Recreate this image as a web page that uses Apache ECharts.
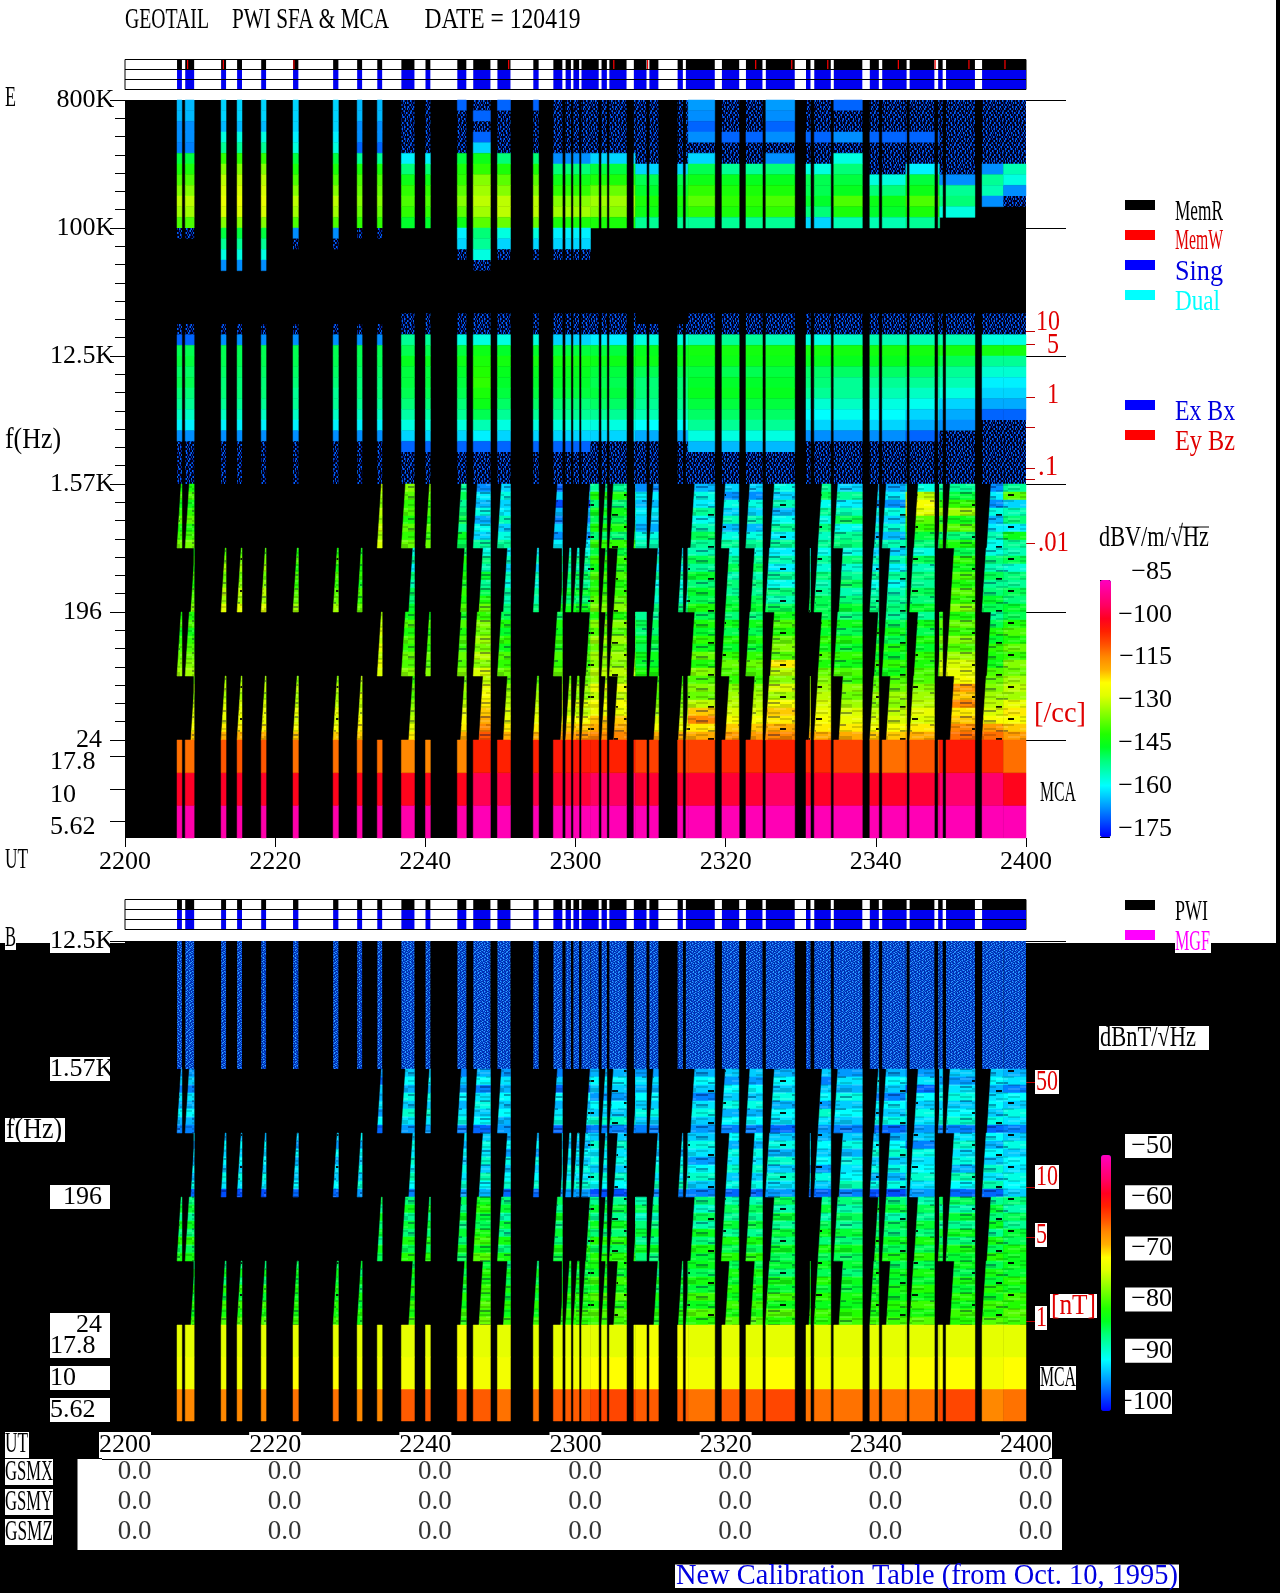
<!DOCTYPE html>
<html><head><meta charset="utf-8">
<style>html,body{margin:0;padding:0;background:#fff}#c{width:1280px;height:1593px}</style>
<script src="https://cdn.jsdelivr.net/npm/echarts@6/dist/echarts.min.js"></script>
</head><body><div id="c"></div>
<script>
const _=null, D=-181, K=-101;
// tick labels
const timeLabels=['2200','2220','2240','2300','2320','2340','2400'];
const nb='\u00a0';
const freqLabelsE=[nb+nb+nb+nb+'24',nb+nb+'196','1.57K','12.5K',nb+'100K',nb+'800K'];
const freqLabelsB=[nb+nb+nb+nb+'24',nb+nb+'196','1.57K','12.5K'];
const mcaLabels=['5.62','10','17.8'];
const eBarTicks=[-175,-160,-145,-130,-115,-100,-85];
const bBarTicks=[-100,-90,-80,-70,-60,-50];
const eDensityPos=[3.19,3.09,2.68,2.445,2.125,2.04,1.54];
const bFieldPos=[1.898,1.078,0.6875,0.031];
const gsmNames=['GSMX','GSMY','GSMZ'];
const gsmX=[0.0,0.0,0.0,0.0,0.0,0.0,0.0];
const gsmY=[0.0,0.0,0.0,0.0,0.0,0.0,0.0];
const gsmZ=[0.0,0.0,0.0,0.0,0.0,0.0,0.0];
// observation segments, minutes after 2200
const headerSegs=[[6.93,7.58],[8.02,9.21],[12.8,13.46],[14.93,15.58],[18.14,18.79],[22.38,23.09],[27.72,28.42],[30.92,31.58],[33.6,34.25],[36.81,38.55],[40.02,40.67],[44.26,45.46],[46.38,48.67],[49.6,51.34],[54.38,55.09],[57.05,58.25],[58.68,59.39],[59.72,60.48],[60.8,63.09],[63.47,64.18],[64.51,66.8],[67.77,69.46],[69.84,71.04],[73.6,74.3],[74.7,78.55],[79.5,81.8],[82.7,84.9],[85.35,89.2],[90.7,91.3],[91.8,94.0],[94.4,98.2],[99.2,100.4],[100.85,104.1],[104.5,107.8],[108.3,108.9],[109.35,113.2],[114.15,120]];
const memWTimes=[8.34,13.1,22.5,51.1,65.1,69.6,84.0,88.8,93.6,103.0,107.9,112.4,117.2];
const oddBandSegs=[[6.93,7.58],[8.02,9.21],[33.6,34.25],[36.81,38.55],[40.02,40.67],[44.26,45.46],[46.38,48.67],[49.6,51.34],[57.05,58.25],[61.4,63.09],[63.47,64.18],[64.51,66.8],[67.77,69.46],[69.84,71.04],[75.34,78.55],[79.42,81.76],[82.68,84.9],[85.95,89.2],[92.3,94.0],[94.4,98.2],[99.8,100.4],[100.85,104.1],[105.1,107.8],[108.3,108.9],[109.35,113.2],[114.8,120]];
const evenBandSegs=[[8.78,9.21],[12.8,13.46],[14.93,15.58],[18.14,18.79],[22.38,23.09],[27.72,28.42],[30.92,31.58],[37.8,38.55],[44.7,45.46],[47.15,48.67],[50.4,51.34],[54.38,55.09],[58.03,58.25],[58.68,59.39],[59.72,60.48],[60.8,63.09],[63.47,64.18],[65.1,66.8],[70.44,71.09],[73.7,74.3],[74.7,78.55],[79.97,81.76],[83.34,84.9],[85.3,89.2],[91.1,91.28],[91.77,94.0],[95.1,98.2],[99.2,100.4],[101.4,104.1],[104.5,107.8],[109.9,113.2],[114.15,120]];
const timeZones=[6,12,20,30,36,42,46,49.5,56,62,68,75,79,85,90,94,99,104,108.5,114,117,120];
// E field, 800K to 1.57K, dB, one row per 1/12 decade, one column per time zone. D = faint speckle below the scale
const eUpper=[
[-162,-160,-160,-162,D,-168,D,-168,D,D,D,-164,D,-164,D,-168,D,D,D,D,D],
[-162,-160,-160,-162,D,D,-168,D,D,D,D,-165,D,-165,D,D,D,D,D,D,D],
[-165,-162,-160,-165,D,D,D,D,D,D,D,-168,D,-168,D,D,D,D,D,D,D],
[-165,-155,-158,-165,D,D,-168,D,D,D,D,-165,-168,-165,-168,-165,-168,-168,D,D,D],
[-166,-150,-155,-168,D,D,-160,D,D,D,D,D,D,D,D,D,D,D,D,D,D],
[-145,-138,-145,-150,-158,-145,-142,-148,-165,-160,D,-160,D,-165,D,-155,D,D,D,D,D],
[-140,-132,-140,-140,-148,-140,-138,-140,-148,-145,-160,-146,-150,-148,-155,-148,D,-158,D,-165,-152],
[-136,-128,-136,-136,-142,-138,-132,-135,-142,-140,-146,-142,-143,-143,-146,-145,-155,-145,-165,-150,-155],
[-132,-126,-132,-134,-138,-135,-130,-132,-138,-134,-144,-138,-140,-140,-146,-143,-148,-142,-150,-152,-165],
[-128,-124,-128,-132,-136,-132,-128,-128,-132,-130,-140,-135,-138,-136,-144,-136,-142,-136,-148,-165,D],
[-130,-126,-130,-134,-138,-135,-130,-128,-130,-132,-142,-138,-140,-138,-148,-140,-144,-140,-155,_,_],
[-136,-132,-136,-138,-144,-142,-135,-134,-140,-140,-150,-150,-150,-150,-160,-152,-152,-150,_,_,_],
[D,-145,-165,D,_,-158,-148,-155,-158,_,_,_,_,_,_,_,_,_,_,_,_],
[_,-150,D,_,_,-160,-150,-160,-160,_,_,_,_,_,_,_,_,_,_,_,_],
[_,-155,_,_,_,D,-155,D,D,_,_,_,_,_,_,_,_,_,_,_,_],
[_,-165,_,_,_,_,D,_,_,_,_,_,_,_,_,_,_,_,_,_,_],
[_,_,_,_,_,_,_,_,_,_,_,_,_,_,_,_,_,_,_,_,_],
[_,_,_,_,_,_,_,_,_,_,_,_,_,_,_,_,_,_,_,_,_],
[_,_,_,_,_,_,_,_,_,_,_,_,_,_,_,_,_,_,_,_,_],
[_,_,_,_,_,_,_,_,_,_,_,_,_,_,_,_,_,_,_,_,_],
[_,_,_,_,D,D,D,D,D,D,_,D,D,D,D,D,D,D,D,D,D],
[D,D,D,D,D,D,D,D,D,D,D,D,D,D,D,D,D,D,D,D,D],
[-168,-165,-165,-165,-150,-155,-155,-155,-160,-158,-155,-152,-150,-152,-155,-153,-152,-152,-152,-155,-155],
[-146,-146,-146,-146,-146,-145,-142,-144,-145,-145,-143,-141,-141,-141,-141,-141,-141,-141,-141,-141,-141],
[-145,-146,-146,-146,-143,-142,-140,-141,-141,-142,-142,-142,-142,-142,-143,-143,-143,-143,-146,-150,-150],
[-147,-147,-147,-147,-145,-144,-139,-143,-143,-145,-146,-145,-146,-145,-147,-147,-147,-147,-150,-154,-154],
[-146,-148,-148,-148,-145,-145,-138,-144,-144,-146,-148,-144,-144,-144,-148,-150,-150,-150,-152,-158,-158],
[-148,-148,-150,-148,-146,-146,-140,-145,-145,-145,-148,-143,-143,-143,-150,-150,-152,-153,-155,-160,-160],
[-150,-150,-150,-150,-148,-148,-142,-147,-148,-147,-150,-145,-145,-145,-154,-153,-155,-156,-160,-163,-163],
[-153,-153,-153,-153,-151,-150,-146,-150,-150,-150,-152,-147,-147,-147,-157,-156,-157,-160,-163,-168,-168],
[-158,-158,-158,-158,-155,-155,-152,-155,-155,-155,-157,-150,-150,-150,-160,-160,-160,-163,-165,D,D],
[-165,-165,-165,-165,-160,-160,-158,-160,-160,-160,-163,-155,-155,-155,-165,-165,-165,-168,D,D,D],
[D,D,D,D,-168,-168,-168,-168,-168,D,D,-162,-162,-162,D,D,D,D,D,D,D],
[D,D,D,D,D,D,D,D,D,D,D,D,D,D,D,D,D,D,D,D,D],
[D,D,D,D,D,D,D,D,D,D,D,D,D,D,D,D,D,D,D,D,D],
[D,D,D,D,D,D,D,D,D,D,D,D,D,D,D,D,D,D,D,D,D]
];
// E field, 1.57K to 24, one row per 1/16 decade
const eLower=[
[-140,-135,-135,-128,-132,-150,-165,-160,-168,-150,-165,-162,-160,-155,-150,-160,-163,-155,-150,-165,-150],
[-136,-135,-135,-130,-135,-146,-158,-155,-160,-140,-158,-155,-165,-160,-146,-150,-158,-128,-145,-158,-135],
[-142,-135,-135,-132,-138,-150,-162,-160,-170,-148,-162,-158,-155,-152,-156,-158,-165,-122,-138,-165,-160],
[-138,-135,-135,-128,-136,-148,-155,-158,-162,-142,-158,-150,-160,-162,-150,-152,-155,-125,-130,-155,-152],
[-135,-135,-135,-130,-140,-145,-163,-152,-166,-146,-160,-156,-152,-156,-155,-146,-160,-135,-142,-162,-148],
[-140,-135,-135,-127,-135,-150,-156,-160,-160,-140,-163,-152,-162,-150,-148,-156,-154,-138,-135,-158,-158],
[-137,-135,-135,-130,-138,-143,-160,-155,-165,-148,-155,-146,-155,-158,-153,-150,-162,-145,-148,-152,-142],
[-133,-135,-135,-126,-134,-146,-150,-150,-158,-138,-152,-150,-150,-150,-150,-148,-152,-148,-140,-156,-150],
[-142,-136,-140,-142,-155,-146,-155,-158,-155,-145,-160,-152,-155,-158,-156,-155,-160,-155,-146,-155,-152],
[-138,-133,-136,-138,-150,-140,-148,-152,-148,-138,-152,-146,-150,-152,-150,-148,-152,-146,-138,-148,-146],
[-140,-130,-140,-140,-158,-143,-152,-160,-152,-142,-158,-150,-146,-158,-154,-154,-158,-152,-142,-152,-154],
[-136,-134,-136,-138,-148,-140,-144,-152,-146,-136,-150,-144,-152,-150,-148,-150,-150,-148,-136,-146,-148],
[-140,-132,-138,-142,-152,-142,-150,-155,-150,-140,-156,-148,-148,-156,-152,-146,-156,-150,-140,-150,-150],
[-136,-128,-135,-136,-146,-138,-146,-150,-144,-138,-152,-144,-150,-148,-150,-152,-152,-146,-135,-148,-146],
[-135,-130,-134,-138,-148,-140,-140,-152,-148,-135,-154,-146,-146,-152,-146,-148,-150,-148,-138,-144,-148],
[-132,-125,-130,-134,-144,-136,-134,-148,-142,-132,-148,-140,-144,-146,-146,-144,-148,-144,-132,-146,-144],
[-140,-135,-135,-130,-142,-142,-138,-146,-146,-140,-150,-146,-148,-142,-146,-148,-150,-150,-140,-150,-146],
[-136,-135,-135,-128,-136,-136,-132,-140,-140,-132,-146,-140,-142,-136,-140,-142,-146,-142,-134,-146,-140],
[-142,-135,-135,-126,-140,-140,-134,-144,-142,-136,-148,-144,-146,-140,-144,-146,-142,-146,-138,-140,-136],
[-138,-135,-135,-128,-136,-136,-130,-138,-138,-130,-144,-138,-140,-134,-138,-140,-146,-140,-132,-144,-140],
[-136,-135,-135,-125,-138,-138,-133,-142,-140,-134,-146,-142,-144,-132,-142,-144,-140,-144,-136,-138,-134],
[-134,-135,-135,-128,-134,-134,-128,-136,-136,-130,-142,-134,-138,-136,-136,-138,-144,-138,-130,-140,-138],
[-132,-135,-135,-124,-136,-136,-132,-138,-138,-132,-144,-140,-134,-120,-140,-142,-138,-140,-126,-142,-132],
[-130,-135,-135,-126,-132,-132,-126,-134,-134,-128,-140,-132,-136,-128,-134,-136,-142,-136,-124,-136,-134],
[-134,-130,-132,-128,-138,-134,-128,-136,-134,-130,-138,-136,-138,-132,-132,-138,-136,-136,-122,-134,-130],
[-130,-128,-128,-130,-134,-130,-124,-132,-130,-124,-134,-132,-132,-126,-130,-132,-134,-132,-114,-132,-128],
[-132,-130,-130,-126,-136,-132,-122,-130,-132,-128,-136,-134,-130,-130,-128,-134,-130,-130,-118,-130,-130],
[-128,-126,-128,-128,-132,-128,-120,-128,-126,-122,-132,-128,-128,-122,-126,-130,-132,-128,-112,-128,-124],
[-126,-124,-124,-126,-130,-124,-118,-126,-128,-124,-130,-118,-126,-118,-124,-126,-128,-124,-120,-126,-120],
[-124,-124,-126,-122,-128,-122,-116,-124,-122,-118,-126,-112,-122,-120,-122,-124,-126,-126,-118,-122,-122],
[-122,-120,-122,-120,-125,-120,-112,-120,-118,-116,-122,-120,-118,-116,-120,-120,-122,-120,-112,-114,-118],
[-118,-116,-118,-118,-120,-116,-108,-116,-114,-112,-116,-116,-114,-112,-116,-116,-118,-116,-110,-110,-114]
];
// E field MCA channels, top to bottom: 17.8, 10, 5.62
const eMca178=[-110,-108,-110,-110,-112,-112,-103,-103,-102,-103,-106,-106,-104,-103,-104,-106,-110,-108,-102,-104,-110];
const eMca10=[-98,-98,-99,-99,-99,-99,-95,-96,-97,-94,-97,-97,-97,-94,-98,-97,-98,-97,-93,-93,-99];
const eMca562=[-87,-87,-87,-87,-87,-87,-86,-86,-86,-86,-86,-86,-86,-86,-86,-86,-86,-86,-86,-86,-86];
// B field, 12.5K to 1.57K: speckle throughout
const bUpper=[
[K,K,K,K,K,K,K,K,K,K,K,K,K,K,K,K,K,K,K,K,K],
[K,K,K,K,K,K,K,K,K,K,K,K,K,K,K,K,K,K,K,K,K],
[K,K,K,K,K,K,K,K,K,K,K,K,K,K,K,K,K,K,K,K,K],
[K,K,K,K,K,K,K,K,K,K,K,K,K,K,K,K,K,K,K,K,K]
];
// B field, 1.57K to 24
const bLower=[
[-94,-94,-94,-94,-92,-95,-93,-94,-95,-93,-94,-93,-92,-93,-92,-94,-93,-94,-92,-92,-93],
[-92,-92,-92,-96,-90,-92,-90,-91,-92,-90,-91,-90,-94,-90,-95,-91,-90,-91,-94,-90,-91],
[-95,-95,-95,-92,-93,-94,-95,-93,-96,-92,-93,-92,-90,-92,-92,-93,-92,-96,-91,-93,-95],
[-91,-91,-91,-93,-89,-90,-91,-90,-90,-94,-90,-95,-92,-89,-90,-89,-95,-90,-89,-91,-90],
[-93,-93,-93,-91,-92,-93,-89,-92,-93,-90,-92,-91,-89,-93,-94,-92,-90,-92,-92,-90,-92],
[-90,-90,-90,-94,-88,-91,-92,-90,-91,-92,-89,-89,-93,-90,-88,-90,-92,-89,-90,-92,-89],
[-93,-93,-93,-90,-91,-89,-90,-93,-89,-88,-92,-92,-90,-91,-91,-92,-89,-91,-88,-89,-91],
[-95,-95,-95,-96,-94,-95,-96,-94,-96,-95,-95,-94,-95,-96,-94,-95,-96,-94,-95,-96,-95],
[-91,-93,-92,-90,-92,-91,-92,-93,-91,-92,-93,-92,-90,-92,-93,-92,-93,-92,-91,-90,-92],
[-94,-90,-94,-93,-89,-93,-89,-90,-93,-88,-90,-89,-93,-89,-90,-89,-90,-95,-88,-93,-89],
[-91,-92,-90,-90,-91,-90,-91,-94,-90,-91,-93,-91,-89,-93,-92,-93,-88,-89,-91,-90,-92],
[-93,-90,-93,-92,-88,-92,-88,-89,-92,-89,-90,-94,-91,-88,-90,-89,-92,-91,-89,-92,-90],
[-90,-92,-91,-89,-90,-89,-92,-92,-89,-92,-88,-90,-88,-92,-94,-91,-89,-90,-93,-88,-91],
[-93,-89,-92,-92,-87,-91,-87,-90,-91,-88,-91,-88,-92,-88,-89,-90,-93,-88,-87,-91,-89],
[-89,-91,-90,-88,-90,-88,-90,-88,-88,-90,-87,-92,-89,-91,-92,-87,-89,-91,-90,-87,-90],
[-96,-97,-96,-94,-95,-94,-93,-96,-94,-97,-95,-95,-96,-94,-96,-95,-97,-94,-96,-96,-92],
[-85,-90,-90,-84,-85,-84,-82,-85,-84,-86,-87,-85,-87,-84,-86,-85,-85,-87,-84,-86,-85],
[-83,-90,-90,-86,-82,-86,-80,-83,-86,-83,-84,-88,-84,-87,-83,-87,-83,-84,-87,-83,-87],
[-86,-90,-90,-82,-86,-82,-83,-87,-82,-86,-88,-84,-86,-83,-87,-84,-87,-86,-83,-85,-84],
[-82,-90,-90,-85,-83,-85,-84,-83,-85,-82,-85,-87,-83,-86,-84,-86,-84,-83,-86,-82,-86],
[-85,-90,-90,-83,-85,-83,-81,-86,-83,-85,-83,-82,-86,-83,-82,-83,-85,-85,-82,-86,-83],
[-80,-90,-90,-86,-81,-85,-79,-81,-85,-80,-86,-85,-81,-85,-85,-85,-82,-81,-85,-81,-84],
[-84,-90,-90,-82,-84,-81,-82,-85,-81,-84,-82,-81,-84,-82,-81,-82,-84,-84,-81,-84,-81],
[-81,-90,-90,-84,-80,-84,-78,-81,-83,-80,-85,-83,-80,-84,-84,-84,-81,-80,-83,-80,-82],
[-85,-85,-84,-83,-84,-82,-83,-85,-82,-81,-84,-82,-84,-83,-82,-83,-84,-84,-82,-84,-82],
[-82,-82,-82,-85,-81,-84,-80,-82,-84,-83,-86,-84,-81,-85,-84,-85,-82,-81,-84,-81,-83],
[-84,-85,-83,-82,-83,-81,-81,-84,-81,-79,-82,-81,-83,-81,-80,-82,-83,-83,-81,-83,-80],
[-81,-80,-81,-84,-80,-83,-79,-81,-83,-82,-84,-83,-80,-83,-83,-83,-81,-80,-83,-80,-82],
[-83,-83,-82,-81,-82,-80,-80,-83,-80,-78,-81,-79,-82,-79,-80,-81,-82,-82,-80,-82,-79],
[-80,-79,-80,-83,-79,-82,-78,-80,-82,-81,-83,-82,-79,-82,-82,-82,-80,-79,-82,-79,-80],
[-82,-81,-81,-80,-81,-79,-79,-82,-79,-78,-80,-78,-81,-78,-79,-80,-81,-81,-79,-81,-78],
[-79,-78,-79,-81,-78,-80,-77,-79,-80,-79,-81,-80,-78,-80,-80,-79,-79,-78,-80,-78,-79]
];
const bMca178=[-72,-72,-72,-72,-72,-71,-72,-72,-72,-72,-71,-72,-72,-72,-72,-72,-72,-72,-72,-72,-72];
const bMca10=[-71,-71,-70,-71,-71,-70,-71,-71,-71,-70,-70,-71,-71,-70,-71,-71,-71,-70,-70,-71,-70];
const bMca562=[-65,-65,-64,-65,-63,-63,-63,-64,-63,-62,-63,-64,-63,-62,-64,-64,-64,-64,-62,-65,-64];
// colour scale stops, low to high
const colourStops=['#0000ff','#0040ff','#0080ff','#00c0ff','#00ffff','#00ffbb','#00ff77','#00ff22','#20ff00','#60ff00','#a0ff00','#e0ff00','#ffff00','#ffb000','#ff8800','#ff5000','#ff2000','#ff0020','#ff0060','#ff0090','#ff00c0'];
// fill tiles (style only): speckle for faint regions, fine banding for the sweep bands
const speckleTile=['0120100210010201','2010012001200100','0102100100210012','1001020210010120','0210100001201001','1000210120010210','0120010201002100','2001200010120001','0100102100210120','1020010012001002','0012100201000210','2100020100120100','0100120010210021','0021001200100120','1200100210020100','0010210001201002'];
const bandTile=['..aa....bb..aa..','aaaa..k...aaaa..','.bb...aa....bb..','....cc..bb....aa','aa......aa..cc..','..bb..aa....bb..','cc....bb..aa....','..aa....k.....bb','bb..cc....aa....','....aa..bb....aa','.aa....aa..cc...','bb....bb......aa','..k.aa....bb....','aa....cc....aa..','..bb....aa....bb','cc..aa....bb....'];
function tile(rows,w,h,colours){
  const cv=document.createElement('canvas');cv.width=rows[0].length*w;cv.height=rows.length*h;
  const g=cv.getContext('2d');
  rows.forEach((r,y)=>{for(let x=0;x<r.length;x++){const c=colours[r[x]];if(c){g.fillStyle=c;g.fillRect(x*w,y*h,w,h);}}});
  return cv;
}
const eSpeckle={image:tile(speckleTile,1,2,{'0':'#000018','1':'#0028a8','2':'#0068f0'}),repeat:'repeat'};
const bSpeckle={image:tile(speckleTile,1,1,{'0':'#0030b0','1':'#1060e8','2':'#30a0ff'}),repeat:'repeat'};
const bandFill={image:tile(bandTile,6,2,{'.':null,'a':'rgba(0,0,0,.16)','b':'rgba(255,255,255,.14)','c':'rgba(0,0,60,.38)','k':'rgba(0,0,0,.9)'}),repeat:'repeat'};

const FONT='"Liberation Serif"';
const ctx=document.createElement('canvas').getContext('2d');
function T(text,x,y,w,color,size){
  size=size||29; ctx.font=size+'px '+FONT;
  const m=ctx.measureText(text).width;
  return {type:'text',x:x,y:y,scaleX:w/m,z:50,silent:true,style:{text:text,fill:color||'#000',font:size+'px '+FONT,verticalAlign:'middle',align:'left'}};
}
function R(x,y,w,h,fill,z){return {type:'rect',z:z===undefined?40:z,silent:true,shape:{x:x,y:y,width:w,height:h},style:{fill:fill}};}

function pieces(segs,row,yB,yT,sB,sT,banded,out){
  segs.forEach(s=>{
    for(let z=0;z<row.length;z++){
      if(row[z]===null) continue;
      const a=Math.max(s[0],timeZones[z]), b=Math.min(s[1],timeZones[z+1]);
      if(b<=a) continue;
      const first=a===s[0];
      out.push([a,b,yB,yT,row[z],first?sB:0,first?sT:0,banded]);
    }
  });
}
function buildSfa(upper,lower,topDecade,slant){
  const out=[];
  const up=(topDecade-2)/upper.length;
  upper.forEach((row,i)=>pieces(headerSegs,row,topDecade-(i+1)*up,topDecade-i*up,0,0,0,out));
  const step=2/lower.length;
  lower.forEach((row,i)=>{
    const yT=2-i*step,yB=2-(i+1)*step;
    const band=Math.floor(i/8);
    const bandBottom=2-(band+1)*0.5;
    const segs=band%2===0?oddBandSegs:evenBandSegs;
    pieces(segs,row,yB,yT,slant*(yB-bandBottom)/0.5,slant*(yT-bandBottom)/0.5,1,out);
  });
  return out;
}
function buildMca(r178,r10,r562){
  const out=[];
  [r562,r10,r178].forEach((row,i)=>pieces(headerSegs,row,i,i+1,0,0,0,out));
  return out;
}
function buildHeader(withRed){
  const out=[];
  headerSegs.forEach(s=>{out.push([s[0],s[1],0,2,0]);out.push([s[0],s[1],2,3,1]);});
  if(withRed) memWTimes.forEach(t=>out.push([t-0.08,t+0.08,2,3,2]));
  return out;
}
function cellItem(params,api){
  const t0=api.value(0),t1=api.value(1),yB=api.value(2),yT=api.value(3),v=api.value(4),sB=api.value(5),sT=api.value(6),banded=api.value(7);
  const pts=[api.coord([Math.min(t0+sB,t1),yB]),api.coord([t1,yB]),api.coord([t1,yT]),api.coord([Math.min(t0+sT,t1),yT])];
  if(v===D||v===K){
    return {type:'polygon',silent:true,shape:{points:pts},style:{fill:v===D?eSpeckle:bSpeckle}};
  }
  const c=api.visual('color');
  const base={type:'polygon',silent:true,shape:{points:pts},style:{fill:c,stroke:c,lineWidth:0.5}};
  if(!banded) return base;
  return {type:'group',silent:true,children:[base,{type:'polygon',silent:true,shape:{points:pts},style:{fill:bandFill}}]};
}
const headerColours=['#0000f0','#000','#ff0000'];
function headerItem(params,api){
  const a=api.coord([api.value(0),api.value(3)]),b=api.coord([api.value(1),api.value(2)]);
  return {type:'rect',silent:true,shape:{x:a[0],y:a[1],width:b[0]-a[0],height:b[1]-a[1]},style:{fill:headerColours[api.value(4)]}};
}
function cellSeries(x,y,data){
  return {type:'custom',xAxisIndex:x,yAxisIndex:y,data:data,renderItem:cellItem,encode:{x:[0,1],y:[2,3]},animation:false,silent:true,clip:false,progressive:0};
}
function headerSeries(x,y,data){
  return {type:'custom',xAxisIndex:x,yAxisIndex:y,data:data,renderItem:headerItem,encode:{x:[0,1],y:[2,3]},animation:false,silent:true};
}
function gsmSeries(i,vals){
  return {type:'scatter',xAxisIndex:6,yAxisIndex:15,symbolSize:0,silent:true,animation:false,
    data:vals.map((v,k)=>[k*20,i,v]),
    label:{show:true,position:'inside',offset:[9.5,0],formatter:p=>p.value[2].toFixed(1),fontFamily:FONT,fontSize:27,color:'#000'}};
}
const hiddenX=g=>({type:'value',gridIndex:g,min:0,max:120,show:false});
const L=126,W=900;
const grids=[
 {left:L-1,top:59.5,width:W+1,height:30,show:true,backgroundColor:'#fff',borderColor:'#000',borderWidth:1},
 {left:L-1,top:100,width:W+1,height:640,show:true,backgroundColor:'#000',borderWidth:0},
 {left:L-1,top:740,width:W+1,height:98,show:true,backgroundColor:'#000',borderWidth:0},
 {left:L-1,top:899.5,width:W+1,height:30,show:true,backgroundColor:'#fff',borderColor:'#000',borderWidth:1},
 {left:L-1,top:941,width:W+1,height:384,show:true,backgroundColor:'#000',borderWidth:0},
 {left:L-1,top:1325,width:W+1,height:96,show:false},
 {left:L-1,top:1457,width:W+1,height:90,show:false},
 {left:L-1,top:746,width:W+1,height:98,show:false},
 {left:L-1,top:1330,width:W+1,height:96,show:false},
 {left:1100,top:580,width:11,height:257,show:false},
 {left:1100,top:572,width:11,height:257,show:false},
 {left:1100,top:1146,width:11,height:256,show:false}
];
const timeAxis=(g,margin,tick,box)=>({type:'value',gridIndex:g,min:0,max:120,interval:20,position:'bottom',
  splitLine:{show:false},axisLine:{show:false},
  axisTick:{show:tick,length:9,lineStyle:{color:'#000'}},
  axisLabel:Object.assign({margin:margin,color:'#000',fontFamily:FONT,fontSize:26,formatter:v=>timeLabels[v/20]},box?{backgroundColor:'#fff'}:{})});
const xAxes=[hiddenX(0),hiddenX(1),timeAxis(2,11,true,false),hiddenX(3),hiddenX(4),timeAxis(5,11,false,true),hiddenX(6),hiddenX(7),hiddenX(8),hiddenX(9),hiddenX(10),hiddenX(11)];
const noLine={show:false};
const headerY=g=>({type:'value',gridIndex:g,min:0,max:3,interval:1,z:5,axisLine:noLine,axisTick:noLine,axisLabel:noLine,splitLine:{show:true,lineStyle:{color:'#000',width:1}}});
const freqY=(g,max,labels,box)=>({type:'value',gridIndex:g,min:0,max:max,interval:1,splitLine:noLine,axisLine:noLine,
  axisTick:{show:true,length:15,lineStyle:{color:'#000'}},
  minorTick:{show:true,splitNumber:7,length:10,lineStyle:{color:'#000'}},
  axisLabel:Object.assign({margin:75,align:'left',color:'#000',fontFamily:FONT,fontSize:26,formatter:v=>labels[v]},box?{backgroundColor:'#fff',width:60,height:24,lineHeight:24}:{})});
const longTicks=(g,max)=>({type:'value',gridIndex:g,min:0,max:max,interval:1,position:'right',splitLine:noLine,axisLine:noLine,axisLabel:noLine,
  axisTick:{show:true,length:40,lineStyle:{color:'#000'}}});
const redTicks=(g,max,vals)=>({type:'value',gridIndex:g,min:0,max:max,position:'right',splitLine:noLine,axisLine:noLine,axisLabel:noLine,
  axisTick:{show:true,length:9,customValues:vals,lineStyle:{color:'#c00000'}}});
const mcaTicks=g=>({type:'value',gridIndex:g,min:0,max:3,splitLine:noLine,axisLine:noLine,axisLabel:noLine,
  axisTick:{show:true,length:15,customValues:[0.5,1.5,2.5],lineStyle:{color:'#000'}}});
const mcaNames=(g,box)=>({type:'category',gridIndex:g,data:mcaLabels,splitLine:noLine,axisLine:noLine,axisTick:noLine,
  axisLabel:Object.assign({interval:0,margin:75,align:'left',color:'#000',fontFamily:FONT,fontSize:26},box?{backgroundColor:'#fff',width:60,height:24,lineHeight:24}:{})});
const barLabels=(g,min,max,ticks,box)=>({type:'value',gridIndex:g,min:min,max:max,position:'right',splitLine:noLine,axisLine:noLine,axisTick:noLine,
  axisLabel:Object.assign({margin:61,align:'right',customValues:ticks,color:'#000',fontFamily:FONT,fontSize:26,formatter:v=>'\u2212'+Math.abs(v)},box?{backgroundColor:'#fff',width:47,height:24,lineHeight:24}:{})});
const yAxes=[
 headerY(0),                    //0
 freqY(1,5,freqLabelsE,false),  //1
 longTicks(1,5),                //2
 redTicks(1,5,eDensityPos),     //3
 mcaTicks(2),                   //4
 headerY(3),                    //5
 freqY(4,3,freqLabelsB,true),   //6
 longTicks(4,3),                //7
 redTicks(4,3,bFieldPos),       //8
 mcaTicks(5),                   //9
 mcaNames(7,false),             //10
 mcaNames(8,true),              //11
 {type:'value',gridIndex:9,min:-175,max:-85,position:'right',splitLine:noLine,axisLine:noLine,axisLabel:noLine,
  axisTick:{show:true,length:10,customValues:eBarTicks,lineStyle:{color:'#000'}}}, //12
 barLabels(10,-175,-85,eBarTicks,false), //13
 barLabels(11,-100,-50,bBarTicks,true),  //14
 {type:'category',gridIndex:6,data:gsmNames,inverse:true,splitLine:noLine,axisLine:noLine,axisTick:noLine,axisLabel:noLine} //15
];
const series=[
 headerSeries(0,0,buildHeader(true)),
 cellSeries(1,1,buildSfa(eUpper,eLower,5,0.55)),
 cellSeries(2,4,buildMca(eMca178,eMca10,eMca562)),
 headerSeries(3,5,buildHeader(false)),
 cellSeries(4,6,buildSfa(bUpper,bLower,3,0.55)),
 cellSeries(5,9,buildMca(bMca178,bMca10,bMca562)),
 gsmSeries(0,gsmX),gsmSeries(1,gsmY),gsmSeries(2,gsmZ)
];
const visualMaps=[
 {type:'continuous',seriesIndex:[1,2],dimension:4,min:-175,max:-85,left:1100,top:580,itemWidth:11,itemHeight:257,padding:0,calculable:false,hoverLink:false,inRange:{color:colourStops},outOfRange:{color:['#00246e']}},
 {type:'continuous',seriesIndex:[4,5],dimension:4,min:-100,max:-50,left:1101,top:1155,itemWidth:10,itemHeight:256,padding:0,calculable:false,hoverLink:false,inRange:{color:colourStops},outOfRange:{color:['#00246e']}}
];
const legendRows=[['MemR','#000',200,212,48],['MemW','#e00000',230,241,48],['Sing','#0000e0',260,272,48],['Dual','#00ffff',290,302,45],['Ex Bx','#0000e0',400,412,60],['Ey Bz','#e00000',430,442,60],['PWI','#000',900,912,33]];
const legendFill=['#000','#ff0000','#0000ff','#00ffff','#0000ff','#ff0000','#000'];
const graphics=[
 R(0,0,1276,943,'#fff',-20),
 R(1276,0,4,943,'#000',-20),
 R(0,943,1280,650,'#000',-20),
 R(102,1435,947,24,'#fff',-5),
 R(77.5,1459,984.5,91,'#fff',-5),
 R(102,1459,947,1,'#000',-4),
 T('GEOTAIL',125,20,84),
 T('PWI SFA & MCA',232,20,157),
 T('DATE = 120419',424.5,20,156),
 T('E',5,98,11), T('f(Hz)',5,440,56), T('UT',5,860,23),
 R(5,930,11,20,'#fff',45), T('B',5,938,11),
 R(5,1118,60,24,'#fff',45), T('f(Hz)',6,1130,56),
 R(5,1432,24,26,'#fff',45), T('UT',5,1444,23),
 T('10',1036,322,24,'#e00000'), T('5',1047,345,12,'#e00000'), T('1',1047,395,12,'#e00000'),
 T('.1',1038,467,20,'#e00000'), T('.01',1038,543,31,'#e00000'), T('[/cc]',1034,714,52,'#e00000'),
 T('MCA',1040,793,36),
 R(1035,1070,24,24,'#fff',45),T('50',1036,1082,22,'#e00000'),
 R(1035,1165,24,24,'#fff',45),T('10',1036,1177,22,'#e00000'),
 R(1035,1223,12,24,'#fff',45),T('5',1036,1235,11,'#e00000'),
 R(1035,1306,12,24,'#fff',45),T('1',1036,1318,11,'#e00000'),
 R(1050,1294,47,24,'#fff',45),T('[nT]',1051,1306,45,'#e00000'),
 R(1040,1366,36,24,'#fff',45),T('MCA',1040,1378,36),
 R(1125,930,30,10,'#ff00ff'),
 R(1175,932,36,21,'#fff',45),T('MGF',1175,942,35,'#ff00ff'),
 T('dBV/m/\u221aHz',1099,538,110),
 {type:'line',z:50,silent:true,shape:{x1:1179,y1:527,x2:1209,y2:527},style:{stroke:'#000',lineWidth:1}},
 R(1099,1026,110,24,'#fff',45),T('dBnT/\u221aHz',1100,1038,96),
 R(5,1459,48,26,'#fff',45),T(gsmNames[0],5,1472,48),
 R(5,1489,48,26,'#fff',45),T(gsmNames[1],5,1502,48),
 R(5,1519,48,26,'#fff',45),T(gsmNames[2],5,1532,48),
 R(675,1564.5,504,23.5,'#fff',45),T('New Calibration Table (from Oct. 10, 1995)',676,1576,502,'#0000e0')
];
legendRows.forEach((r,i)=>{graphics.push(R(1125,r[2],30,10,legendFill[i]));graphics.push(T(r[0],1175,r[3],r[4],r[1]));});

const chart=echarts.init(document.getElementById('c'),null,{renderer:'canvas',width:1280,height:1593});
chart.setOption({animation:false,backgroundColor:'#fff',tooltip:{show:false},
 grid:grids,xAxis:xAxes,yAxis:yAxes,visualMap:visualMaps,series:series,graphic:{elements:graphics}});
</script></body></html>
